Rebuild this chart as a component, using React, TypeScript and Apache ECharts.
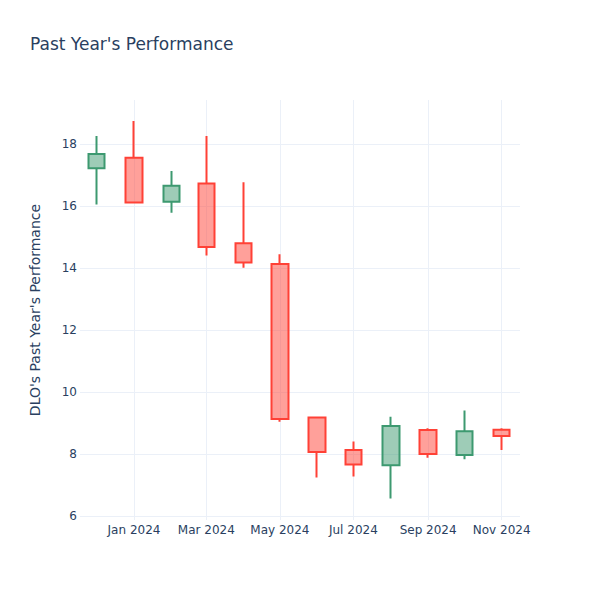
import React, { useEffect, useRef } from "react";
import * as echarts from "echarts";

const months: string[] = [
  "2023-12", "2024-01", "2024-02", "2024-03", "2024-04", "2024-05",
  "2024-06", "2024-07", "2024-08", "2024-09", "2024-10", "2024-11",
];
const openValues: number[] = [17.22, 17.56, 16.14, 16.73, 14.80, 14.13, 9.18, 8.13, 7.64, 8.77, 7.97, 8.78];
const closeValues: number[] = [17.68, 16.11, 16.65, 14.68, 14.18, 9.13, 8.06, 7.66, 8.90, 8.00, 8.73, 8.58];
const lowValues: number[] = [16.05, 16.10, 15.78, 14.40, 14.01, 9.04, 7.24, 7.27, 6.56, 7.88, 7.83, 8.13];
const highValues: number[] = [18.26, 18.74, 17.13, 18.26, 16.77, 14.44, 9.18, 8.40, 9.20, 8.83, 9.40, 8.83];

const xTickMonths: string[] = ["2024-01", "2024-03", "2024-05", "2024-07", "2024-09", "2024-11"];
const yTicks: number[] = [6, 8, 10, 12, 14, 16, 18];
const monthNames = ["Jan", "Feb", "Mar", "Apr", "May", "Jun", "Jul", "Aug", "Sep", "Oct", "Nov", "Dec"];

const toTime = (ym: string, day = 1) => {
  const [y, m] = ym.split("-").map(Number);
  return new Date(y, m - 1, day).getTime();
};

const TEXT = "#2a3f5f";
const GRID = "#EBF0F8";
const FONT = "DejaVu Sans, Open Sans, sans-serif";

export default function App() {
  const ref = useRef<HTMLDivElement>(null);
  useEffect(() => {
    if (!ref.current) return;
    const chart = echarts.init(ref.current, undefined, { renderer: "svg" });
    const data = months.map((m, i) => [toTime(m), openValues[i], closeValues[i], lowValues[i], highValues[i]]);
    const xTicks = xTickMonths.map((m) => toTime(m));
    chart.setOption({
      animation: false,
      backgroundColor: "#fff",
      textStyle: { fontFamily: FONT },
      title: {
        text: "Past Year's Performance",
        left: 30,
        top: 35,
        padding: 0,
        textStyle: { fontSize: 17, fontWeight: "normal", color: TEXT, fontFamily: FONT },
      },
      grid: { left: 80, right: 80, top: 100, bottom: 80, containLabel: false },
      xAxis: {
        type: "value",
        scale: true,
        min: new Date(2023, 10, 17, 5).getTime(),
        max: new Date(2024, 10, 16, 5).getTime(),
        axisLine: { show: false },
        axisTick: { show: false, customValues: xTicks },
        splitLine: { show: true, lineStyle: { color: GRID, width: 1 } },
        axisLabel: {
          customValues: xTicks,
          color: TEXT,
          fontSize: 12,
          fontFamily: FONT,
          margin: 4,
          hideOverlap: false,
          formatter: (v: number) => {
            const d = new Date(v);
            return monthNames[d.getMonth()] + " " + d.getFullYear();
          },
        },
      },
      yAxis: {
        type: "value",
        min: 5.87,
        max: 19.42,
        name: "DLO's Past Year's Performance",
        nameLocation: "middle",
        nameGap: 38,
        nameTextStyle: { color: TEXT, fontSize: 14, fontFamily: FONT },
        axisLine: { show: false },
        axisTick: { show: false, customValues: yTicks },
        splitLine: { show: true, lineStyle: { color: GRID, width: 1 } },
        axisLabel: {
          customValues: yTicks,
          color: TEXT,
          fontSize: 12,
          fontFamily: FONT,
          margin: 3,
        },
      },
      series: [
        {
          type: "candlestick",
          data,
          encode: { x: 0, y: [1, 2, 3, 4] },
          barWidth: 17,
          itemStyle: {
            color: "rgba(61,153,112,0.5)",
            color0: "rgba(255,65,54,0.5)",
            borderColor: "#3D9970",
            borderColor0: "#FF4136",
            borderWidth: 2,
          },
        },
      ],
    });
    return () => chart.dispose();
  }, []);
  return <div ref={ref} style={{ position: "fixed", left: 0, top: 0, width: 600, height: 600 }} />;
}
